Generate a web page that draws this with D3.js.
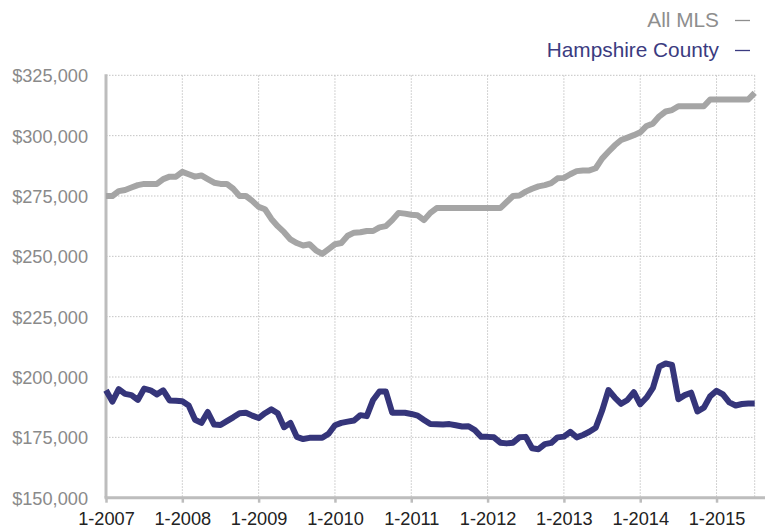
<!DOCTYPE html>
<html>
<head>
<meta charset="utf-8">
<script src="https://d3js.org/d3.v7.min.js"></script>
<style>
html,body{margin:0;padding:0;background:#fff;}
svg{display:block;font-family:"Liberation Sans",Arial,Helvetica,sans-serif;}
</style>
</head>
<body>
<svg id="chart" width="765" height="531"></svg>
<script>
// Monthly, Jan 2007 .. Jul 2015
const startYear = 2007, startMonth = 1;
const allMLS = [
  275,275,277,277.5,278.5,279.5,280,280,280,282,283,283,
  285,284,283,283.5,282,280.5,280,280,278,275,275,273,
  270.5,269.5,265.5,262.5,260,257,255.5,254.5,255,252.5,251,253,
  255,255.5,258.5,259.8,260,260.5,260.5,262,262.5,265,268,267.7,
  267.2,267,265,268,270,270,270,270,270,270,270,270,
  270,270,270,272.5,275,275.2,276.8,278,279,279.5,280.3,282.3,
  282.5,284,285.3,285.6,285.6,286.5,290.5,293.3,296,298.2,299.2,300.2,
  301.4,304,305,308,310,310.6,312.2,312.2,312.2,312.2,312.2,315,
  315,315,315,315,315,315,317.7
].map(v => v * 1000);
const hampshire = [
  194.5,189.8,195,193,192.5,190.5,195.2,194.5,192.8,194.5,190.3,190.2,
  190,188.2,182.3,181,185.5,180.3,180.1,181.7,183.3,185,185.2,184,
  183,185,186.6,185,179.2,181,175.2,174.3,174.8,174.8,174.8,176.5,
  180,181,181.5,182,184.2,183.8,190.5,194,194,185.2,185.2,185.2,
  184.7,184,182.2,180.5,180.4,180.3,180.5,180,179.5,179.6,178,175.2,
  175.2,175,172.8,172.5,172.8,175,175.2,170.5,170.1,172.2,172.7,175,
  175.3,177.3,175,176,177.3,179,186,194.6,191.5,188.9,190.5,193.7,
  188.7,191.5,195.5,204.3,205.6,205,190.8,192.5,193.5,185.7,187.3,192,
  194.3,192.8,189.5,188.2,188.8,189,189
].map(v => v * 1000);
const yTicks = [150000,175000,200000,225000,250000,275000,300000,325000];
const xTickYears = [2007,2008,2009,2010,2011,2012,2013,2014,2015];
const seriesNames = ["All MLS","Hampshire County"];
const seriesColors = ["#a5a5a5","#35357a"];
const legendTextColors = ["#8e8e8e","#3b3b80"];

const svg = d3.select("#chart");
const pLeft = 106, pRight = 754.7, pTop = 75.3, pBottom = 497.7;

const x = d3.scaleLinear().domain([0, allMLS.length - 1]).range([pLeft, pRight]);
const y = d3.scaleLinear().domain([150000, 325000]).range([pBottom, pTop]);
const monthIdx = yr => (yr - startYear) * 12 + (1 - startMonth);

// gridlines
const grid = svg.append("g");
grid.selectAll(".hg").data(yTicks.slice(1)).join("line")
  .attr("x1", pLeft).attr("x2", pRight)
  .attr("y1", d => y(d)).attr("y2", d => y(d))
  .attr("stroke", "#c4c4c4").attr("stroke-width", 1).attr("stroke-dasharray", "1.5,1.5");
grid.selectAll(".vg").data(xTickYears.slice(1).map(monthIdx).concat([allMLS.length - 1])).join("line")
  .attr("x1", d => x(d)).attr("x2", d => x(d))
  .attr("y1", pTop).attr("y2", pBottom)
  .attr("stroke", "#c4c4c4").attr("stroke-width", 1).attr("stroke-dasharray", "1.5,1.5");

// axes
const yAxis = d3.axisLeft(y).tickValues(yTicks).tickSize(0).tickPadding(18)
  .tickFormat(d => "$" + d3.format(",")(d));
const gy = svg.append("g").attr("transform", `translate(${pLeft},0)`).call(yAxis);
gy.select(".domain").remove();
gy.selectAll("text").attr("fill", "#8a8a8a").style("font-size", "18.2px")
  .attr("dy", "0.35em").attr("x", -18);

const xAxis = d3.axisBottom(x).tickValues(xTickYears.map(monthIdx)).tickSize(5).tickPadding(9)
  .tickFormat((d, i) => "1-" + xTickYears[i]);
const gx = svg.append("g").attr("transform", `translate(0,${pBottom})`).call(xAxis);
gx.select(".domain").remove();
gx.selectAll(".tick line").attr("stroke", "#bdbdbd").attr("stroke-width", 2.5);
gx.selectAll("text").attr("fill", "#222").style("font-size", "18.2px");

svg.append("line").attr("x1", pLeft).attr("x2", pLeft).attr("y1", pTop - 1).attr("y2", pBottom)
  .attr("stroke", "#bdbdbd").attr("stroke-width", 3);
svg.append("line").attr("x1", pLeft - 1.5).attr("x2", 765).attr("y1", pBottom).attr("y2", pBottom)
  .attr("stroke", "#bdbdbd").attr("stroke-width", 3);

// lines
const line = d3.line().x((d, i) => x(i)).y(d => y(d)).curve(d3.curveLinear);
[allMLS, hampshire].forEach((s, k) => {
  svg.append("path").datum(s).attr("d", line)
    .attr("fill", "none").attr("stroke", seriesColors[k]).attr("stroke-width", 6)
    .attr("stroke-linejoin", "round").attr("stroke-linecap", "butt");
});

// legend
const lg = svg.append("g");
const legendY = [27, 57];
seriesNames.forEach((n, k) => {
  lg.append("text").attr("x", 719).attr("y", legendY[k]).attr("text-anchor", "end")
    .attr("fill", legendTextColors[k]).style("font-size", "20.8px").text(n);
  lg.append("line").attr("x1", 735).attr("x2", 750)
    .attr("y1", legendY[k] - 6.5).attr("y2", legendY[k] - 6.5)
    .attr("stroke", legendTextColors[k]).attr("stroke-width", 1.3);
});
</script>
</body>
</html>
